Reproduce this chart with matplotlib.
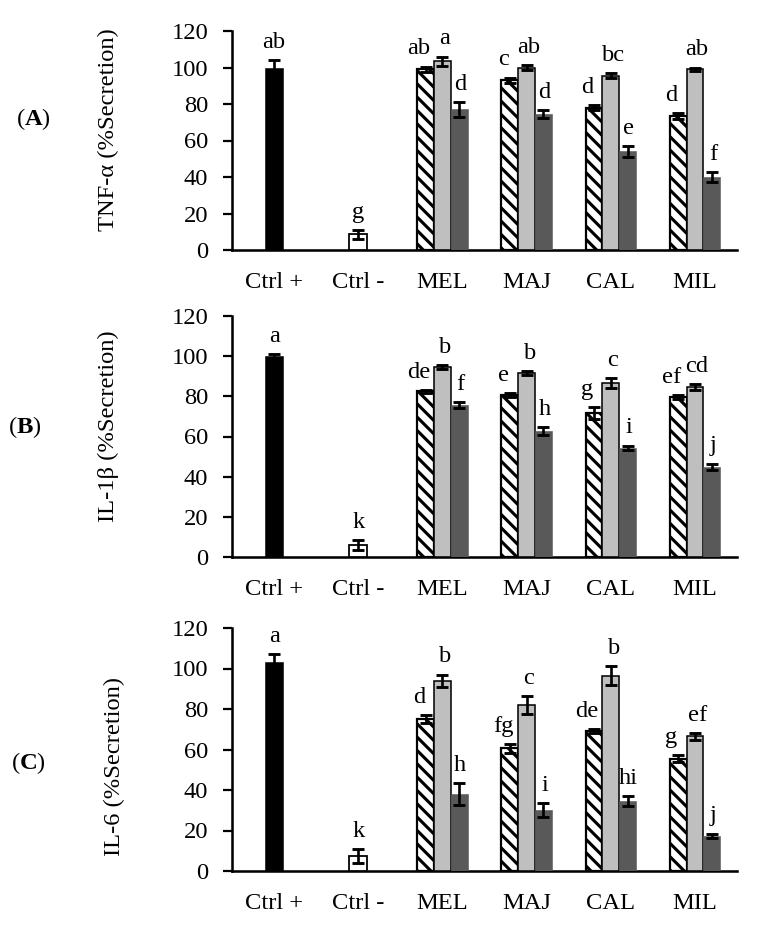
import matplotlib
matplotlib.use('Agg')
import matplotlib.pyplot as plt
import numpy as np

plt.rcParams['font.family'] = ['Liberation Serif', 'DejaVu Serif']
plt.rcParams['mathtext.fontset'] = 'custom'
plt.rcParams['mathtext.rm'] = 'Liberation Serif'
plt.rcParams['mathtext.bf'] = 'Liberation Serif:bold'
plt.rcParams['hatch.linewidth'] = 2.8

# ---------------- data ----------------
categories = ['Ctrl +', 'Ctrl -', 'MEL', 'MAJ', 'CAL', 'MIL']
panel_tags = ['A', 'B', 'C']
ylabels = ['TNF-α (%Secretion)', 'IL-1β (%Secretion)', 'IL-6 (%Secretion)']
yticks = [0, 20, 40, 60, 80, 100, 120]

# Panel A: TNF-alpha
tnf_ctrl = [100, 8.5]
tnf_ctrl_err = [4, 2.5]
tnf_s1 = [99, 93, 78, 73.5]
tnf_s1_err = [1.5, 1.5, 1.5, 1.5]
tnf_s2 = [103.5, 100, 95.5, 99]
tnf_s2_err = [2.5, 1.5, 1.5, 1]
tnf_s3 = [77, 74.5, 54, 40]
tnf_s3_err = [4, 2, 3, 2.5]
tnf_ctrl_let = ['ab', 'g']
tnf_s1_let = ['ab', 'c', 'd', 'd']
tnf_s2_let = ['a', 'ab', 'bc', 'ab']
tnf_s3_let = ['d', 'd', 'e', 'f']

# Panel B: IL-1beta
il1_ctrl = [100, 6]
il1_ctrl_err = [1, 2.5]
il1_s1 = [82.5, 80.5, 71.5, 79.5]
il1_s1_err = [0.7, 1, 3, 1]
il1_s2 = [94.5, 91.5, 86.5, 84.5]
il1_s2_err = [1, 1, 2.5, 1.5]
il1_s3 = [75.5, 62.5, 54.5, 45]
il1_s3_err = [1.5, 2, 1, 1.5]
il1_ctrl_let = ['a', 'k']
il1_s1_let = ['de', 'e', 'g', 'ef']
il1_s2_let = ['b', 'b', 'c', 'cd']
il1_s3_let = ['f', 'h', 'i', 'j']

# Panel C: IL-6
il6_ctrl = [103, 7.5]
il6_ctrl_err = [4, 3.5]
il6_s1 = [75, 60.5, 69, 55.5]
il6_s1_err = [2, 2, 1, 1.8]
il6_s2 = [94, 82, 96.5, 66.5]
il6_s2_err = [3, 4.5, 4.5, 1.7]
il6_s3 = [38, 30, 34.5, 17.5]
il6_s3_err = [5.5, 3.5, 2.5, 1]
il6_ctrl_let = ['a', 'k']
il6_s1_let = ['d', 'fg', 'de', 'g']
il6_s2_let = ['b', 'c', 'b', 'ef']
il6_s3_let = ['h', 'i', 'hi', 'j']

panels = [
    (tnf_ctrl, tnf_ctrl_err, tnf_ctrl_let,
     [(tnf_s1, tnf_s1_err, tnf_s1_let), (tnf_s2, tnf_s2_err, tnf_s2_let), (tnf_s3, tnf_s3_err, tnf_s3_let)]),
    (il1_ctrl, il1_ctrl_err, il1_ctrl_let,
     [(il1_s1, il1_s1_err, il1_s1_let), (il1_s2, il1_s2_err, il1_s2_let), (il1_s3, il1_s3_err, il1_s3_let)]),
    (il6_ctrl, il6_ctrl_err, il6_ctrl_let,
     [(il6_s1, il6_s1_err, il6_s1_let), (il6_s2, il6_s2_err, il6_s2_let), (il6_s3, il6_s3_err, il6_s3_let)]),
]

# ---------------- layout / style ----------------
W, H = 768, 932
FS = 22
fig = plt.figure(figsize=(W / 80, H / 80), dpi=80)

ax_px = [(31, 250), (316, 557), (628, 871)]  # (top, bottom) pixel rows
ylab_y = [130, 426, 767]
ylab_x = [108, 108, 114]
tag_pos = [(33, 119), (25, 427), (28, 763)]
left_px, right_px = 232, 737

series_styles = [
    dict(color='white', edgecolor='black', hatch='\\\\', linewidth=2.0),
    dict(color='#bfbfbf', edgecolor='black', linewidth=1.4),
    dict(color='#595959', edgecolor='#595959', linewidth=0.5),
]
ctrl_styles = [
    dict(color='black', edgecolor='black', linewidth=0.5),
    dict(color='white', edgecolor='black', linewidth=1.6),
]
offsets = [-0.2, 0.0, 0.2]
letter_dx = [-6, 2, 1]   # horizontal nudge of letters (points) per series
bw = 0.2

err_kw = dict(fmt='none', ecolor='black', elinewidth=2.4, capsize=5.5, capthick=2.6, zorder=5)


def letter(ax, x, top, txt, dx=0):
    ax.annotate(txt, xy=(x, top), xytext=(dx, 11), textcoords='offset points',
                ha='center', va='baseline', fontsize=FS)


for i, (ctrl, ctrl_err, ctrl_let, series) in enumerate(panels):
    top, bot = ax_px[i]
    ax = fig.add_axes([left_px / W, (H - bot) / H, (right_px - left_px) / W, (bot - top) / H])

    # control bars
    for j in range(2):
        ax.bar(j, ctrl[j], width=0.21, zorder=3, **ctrl_styles[j])
        ax.errorbar(j, ctrl[j], yerr=ctrl_err[j], **err_kw)
        letter(ax, j, ctrl[j] + ctrl_err[j], ctrl_let[j])

    # grouped bars
    gx = np.arange(2, 6)
    for k, (vals, errs, lets) in enumerate(series):
        xs = gx + offsets[k]
        ax.bar(xs, vals, width=bw, zorder=3, **series_styles[k])
        ax.errorbar(xs, vals, yerr=errs, **err_kw)
        for x, v, e, t in zip(xs, vals, errs, lets):
            letter(ax, x, v + e, t, letter_dx[k])

    ax.set_xlim(-0.5, 5.5)
    ax.set_ylim(0, 120)
    ax.set_yticks(yticks)
    ax.set_xticks(np.arange(len(categories)))
    ax.set_xticklabels(categories)
    for s in ['top', 'right']:
        ax.spines[s].set_visible(False)
    for s in ['left', 'bottom']:
        ax.spines[s].set_linewidth(2.3)
    ax.tick_params(axis='y', direction='out', length=8.5, width=2.0, pad=13, labelsize=FS)
    ax.tick_params(axis='x', length=0, pad=20, labelsize=FS)

    fig.text(ylab_x[i] / W, 1 - ylab_y[i] / H, ylabels[i], rotation=90,
             ha='center', va='center', fontsize=FS)
    tx, ty = tag_pos[i]
    fig.text(tx / W, 1 - ty / H, r'($\mathbf{%s}$)' % panel_tags[i],
             ha='center', va='center', fontsize=FS)

fig.savefig('out.png', dpi=80)
